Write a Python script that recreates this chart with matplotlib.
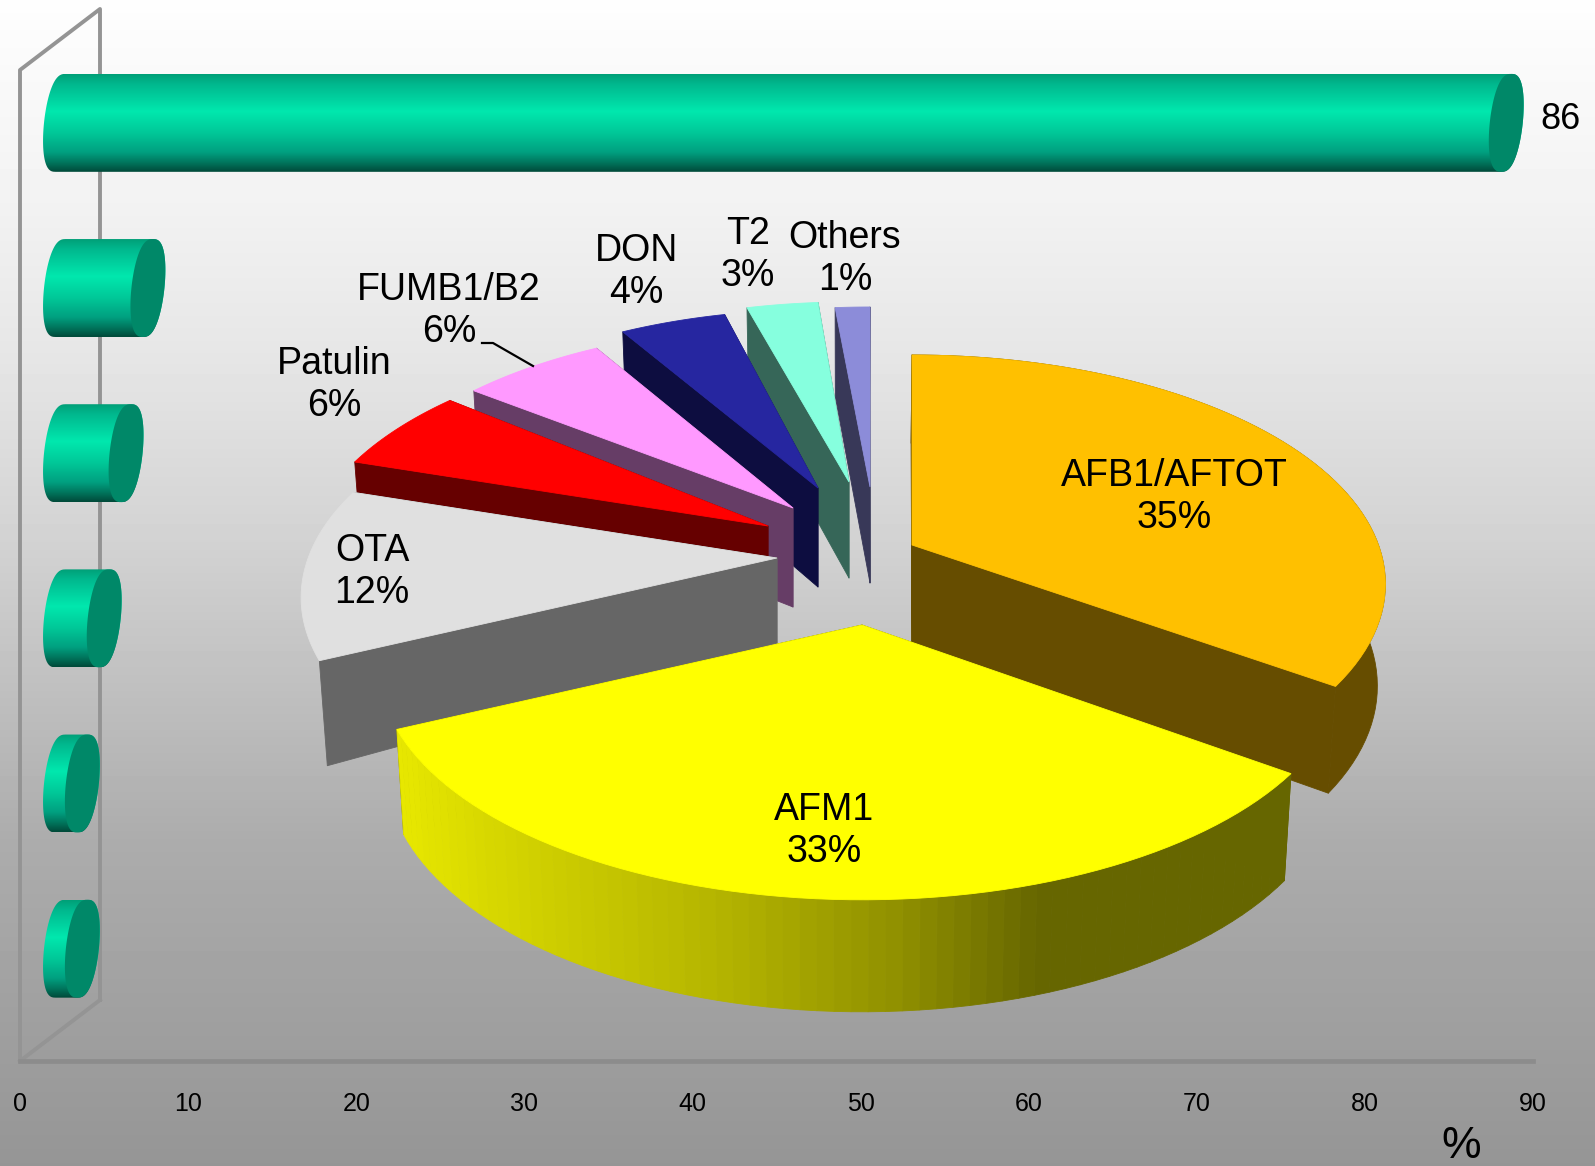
import numpy as np
import matplotlib
matplotlib.use("Agg")
import matplotlib.pyplot as plt
from matplotlib.colors import LinearSegmentedColormap, to_rgb
from matplotlib.patches import Polygon

# --- Data ---
BAR_VALUES = [1.3, 1.3, 2.6, 3.9, 5.2, 86]  # bottom row first, only the top one is labelled
X_TICKS = [0, 10, 20, 30, 40, 50, 60, 70, 80, 90]
SLICE_NAMES = ["AFB1/AFTOT", "AFM1", "OTA", "Patulin", "FUMB1/B2", "DON", "T2", "Others"]
SLICE_PCT = [35, 33, 12, 6, 6, 4, 3, 1]

# --- Style / layout (all pixels, y down) ---
W, H = 1595, 1166
TOP_COLORS = ["#ffc000", "#ffff00", "#e0e0e0", "#ff0000", "#ff99ff", "#2626a0", "#86ffde", "#8c8cd9"]
SIDE_COLORS = ["#664d00", "#666600", "#666666", "#660000", "#663d66", "#0d0d40", "#366658", "#383858"]
APEX = [(912, 545), (862, 625), (777, 558), (768, 526), (793, 508), (818, 488), (849, 482), (870, 487)]
APEX_DROP = [101, 92, 85, 85, 99, 99, 96, 96]
RADIUS = [0.98, 1, 0.985, 0.96, 0.93, 0.91, 0.92, 0.92]
PAD_START = [0, 0, 0, 0, 2, 2, 1.2, 1.7]  # small slices are drawn a bit wider in the original
PAD_END = [1, 0, 0, 0, 1.6, 0, 1.1, 0]
SHOW_RIM = [True, True, False, False, False, False, False, False]
LABEL_POS = [(1174, 497), (824, 831), (372, 572), (334, 385), (449, 311), (636, 272), (748, 255), (845, 259)]
DRAW_ORDER = [7, 6, 5, 4, 3, 2, 0, 1]
RX, RY, PERSP = 476, 227, 0.174
FONT = "Liberation Sans"

plt.rcParams["font.family"] = FONT

fig = plt.figure(figsize=(W / 100, H / 100), dpi=100)


def px_axes(zorder):
    a = fig.add_axes([0, 0, 1, 1], zorder=zorder)
    a.set_xlim(0, W)
    a.set_ylim(H, 0)
    a.axis("off")
    a.patch.set_alpha(0)
    return a


# background gradient and the wall frame
bg = px_axes(0)
ys = np.arange(H)
shade = np.interp(ys, [0, 200, 360, 540, 840, 1166], [0.995, 0.95, 0.90, 0.825, 0.675, 0.585])
bg.imshow(shade[:, None], extent=(0, W, H, 0), cmap="gray", vmin=0, vmax=1, aspect="auto")
bg.set_xlim(0, W)
bg.set_ylim(H, 0)
wall = "#949494"
bg.plot([20, 20, 100, 100], [1061, 70, 9, 1000], color=wall, lw=2.8)
bg.plot([20, 100], [1061, 1000], color=wall, lw=2.8)
bg.plot([20, 1533], [1061, 1061], color="#8c8c8c", lw=3.4)

# bars axis: real 0-90 scale
ax = fig.add_axes([20 / W, 1 - 1061 / H, (1533 - 20) / W, (1061 - 70) / H], zorder=1)
ax.patch.set_alpha(0)
for s in ax.spines.values():
    s.set_visible(False)

body_cmap = LinearSegmentedColormap.from_list("body", [
    (0.0, "#00a078"), (0.10, "#00b88e"), (0.38, "#00e8ae"), (0.60, "#00c898"),
    (0.80, "#00a080"), (0.92, "#007058"), (1.0, "#004a3a")])
UNIT = (1533 - 20) / 90
START = (44 - 20) / UNIT
SEMI = 16.5 / UNIT
TILT = 5 / UNIT
half = 0.593 / 2
t = np.linspace(0, 2 * np.pi, 90)


def rounded(a):
    # slightly boxier than an ellipse, as the original end caps are
    return np.sign(np.cos(a)) * np.abs(np.cos(a)) ** 0.75


for row, val in enumerate(BAR_VALUES):
    left_c = START + SEMI
    right_c = START + val + SEMI
    a1 = np.linspace(np.pi / 2, 3 * np.pi / 2, 40)
    a2 = np.linspace(-np.pi / 2, np.pi / 2, 40)
    xs = np.r_[left_c + SEMI * rounded(a1) + TILT * np.sin(a1), right_c + SEMI * rounded(a2) + TILT * np.sin(a2)]
    yy = np.r_[row + half * np.sin(a1), row + half * np.sin(a2)]
    clip = Polygon(np.c_[xs, yy], closed=True, transform=ax.transData, fc="none", ec="none")
    ax.add_patch(clip)
    im = ax.imshow(np.linspace(0, 1, 200)[:, None], extent=(xs.min(), xs.max(), row - half, row + half),
                   cmap=body_cmap, aspect="auto", origin="upper", zorder=2)
    im.set_clip_path(clip)
    ax.fill(right_c + SEMI * rounded(t) + TILT * np.sin(t), row + half * np.sin(t), color="#008868", lw=0, zorder=3)

ax.set_xlim(0, 90)
ax.set_ylim(-0.68, 5.32)
ax.set_yticks([])
ax.set_xticks(X_TICKS)
ax.tick_params(axis="x", length=0, pad=22, labelsize=18, labelcolor="black")
ax.text(START + BAR_VALUES[-1] + 4.2, 5.02, f"{BAR_VALUES[-1]:g}", fontsize=26, ha="center", va="center", clip_on=False)

# exploded perspective pie
pie = px_axes(2)
edges = 90 - np.cumsum([0] + SLICE_PCT) * 3.6


def rim(i, n=70):
    th = np.radians(np.linspace(edges[i] + PAD_START[i], edges[i + 1] + PAD_END[i], n))
    u, v = RADIUS[i] * np.cos(th), -RADIUS[i] * np.sin(th)
    s = 1 / (1 - PERSP * v)
    x = APEX[i][0] + RX * u * s
    y = APEX[i][1] + RY * v * s
    return x, y, x - 0.015 * (x - 850), y + 100 + 12 * v


def side_shade(x):
    c0, c1 = np.array(to_rgb("#e8e800")), np.array(to_rgb("#666600"))
    f = np.interp(x, [395, 520, 720, 900, 1040], [0, 0.17, 0.40, 0.68, 1.0])
    return tuple(c0 + (c1 - c0) * f)


for i in DRAW_ORDER:
    x, y, xb, yb = rim(i)
    ax_x, ax_y = APEX[i]
    side = SIDE_COLORS[i]
    kw = dict(ec=side, lw=0.6, joinstyle="round")
    # radial walls
    for j in (0, -1):
        pie.add_patch(Polygon([(ax_x, ax_y), (x[j], y[j]), (xb[j], yb[j]), (ax_x, ax_y + APEX_DROP[i])], fc=side, **kw))
    # outer wall, only the front slices show one
    if SHOW_RIM[i]:
        if SLICE_NAMES[i] == "AFM1":
            for k in range(len(x) - 1):
                c = side_shade(0.5 * (x[k] + x[k + 1]))
                pie.add_patch(Polygon([(x[k], y[k]), (x[k + 1], y[k + 1]), (xb[k + 1], yb[k + 1]), (xb[k], yb[k])],
                                      fc=c, ec=c, lw=0.6))
        else:
            pie.add_patch(Polygon(np.r_[np.c_[x, y], np.c_[xb, yb][::-1]], fc=side, **kw))
    # top face
    pie.add_patch(Polygon(np.r_[[(ax_x, ax_y)], np.c_[x, y]], fc=TOP_COLORS[i], ec=TOP_COLORS[i], lw=0.6))

for name, pct, (lx, ly) in zip(SLICE_NAMES, SLICE_PCT, LABEL_POS):
    pie.text(lx, ly, f"{name}\n{pct}%", fontsize=27, ha="center", va="center", linespacing=1.2, color="black")

pie.plot([482, 493, 533], [343, 343, 366], color="black", lw=1.6)
pie.text(1461, 1147, "%", fontsize=32, ha="center", va="center")

fig.savefig("out.png", dpi=100)
